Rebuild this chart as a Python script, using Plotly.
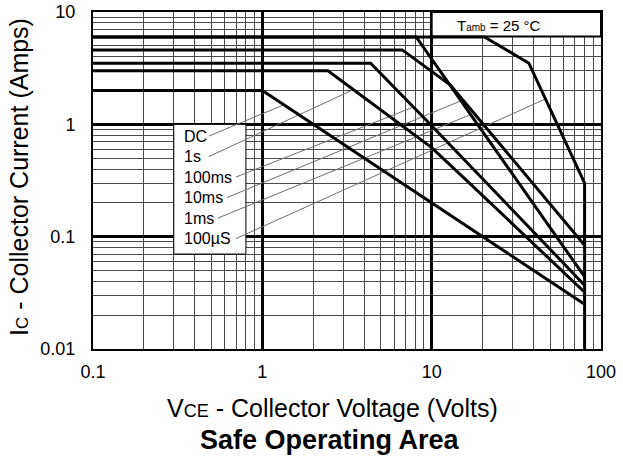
import numpy as np
import plotly.graph_objects as go

# ---------------- data ----------------
series_names = ["DC", "1s", "100ms", "10ms", "1ms", "100µS"]

dc_v = [0.1, 1.0, 80]
dc_i = [2.0, 2.0, 0.025]

s1_v = [0.1, 2.44, 10, 15, 80]
s1_i = [3.0, 3.0, 0.62, 0.35, 0.032]

ms100_v = [0.1, 4.36, 10, 80]
ms100_i = [3.5, 3.5, 0.97, 0.037]

ms10_v = [0.1, 6.7, 12.9, 80]
ms10_i = [4.6, 4.6, 2.24, 0.084]

ms1_v = [0.1, 8.1, 80]
ms1_i = [6.0, 6.0, 0.044]

us100_v = [0.1, 20.5, 37.5, 80, 80]
us100_i = [6.0, 6.0, 3.5, 0.30, 0.01]

# voltage on each curve where the label's leader line ends
leader_target_v = [1.34, 3.45, 7.8, 15.3, 17.0, 47.0]

x_tick_vals = [0.1, 1, 10, 100]
x_tick_text = ["0.1", "1", "10", "100"]
y_tick_vals = [0.01, 0.1, 1, 10]
y_tick_text = ["0.01", "0.1", "1", "10"]

curves_v = [dc_v, s1_v, ms100_v, ms10_v, ms1_v, us100_v]
curves_i = [dc_i, s1_i, ms100_i, ms10_i, ms1_i, us100_i]

FONT = "Liberation Sans, Arial, Helvetica, sans-serif"

fig = go.Figure()

# leader lines (thin grey), from label to curve
label_x_log = np.log10(0.335)
label_y_log0 = -0.104
label_step = 0.1826
char_px = 9.0
px_per_dec_x = 169.0
lx, ly = [], []
for k, name in enumerate(series_names):
    v = np.array(curves_v[k], dtype=float)
    i = np.array(curves_i[k], dtype=float)
    mask = np.r_[True, np.diff(v) > 0]
    tv = leader_target_v[k]
    ti = 10 ** np.interp(np.log10(tv), np.log10(v[mask]), np.log10(i[mask]))
    y_log = label_y_log0 - k * label_step
    start_x_log = label_x_log + (len(name) * char_px + 9) / px_per_dec_x
    lx += [10 ** start_x_log, tv, None]
    ly += [10 ** y_log, ti, None]

fig.add_trace(go.Scatter(x=lx, y=ly, mode="lines",
                         line=dict(color="#6e6e6e", width=1),
                         hoverinfo="skip", showlegend=False))

for k, name in enumerate(series_names):
    fig.add_trace(go.Scatter(x=curves_v[k], y=curves_i[k], mode="lines",
                             name=name, line=dict(color="black", width=3),
                             showlegend=False))

# white boxes covering the grid (label box and temperature box)
fig.add_shape(type="rect", xref="x", yref="y", x0=0.3, x1=0.8, y0=0.07, y1=1.0,
              fillcolor="white", line=dict(color="black", width=1), layer="between")
fig.add_shape(type="rect", xref="x", yref="y", x0=10, x1=100, y0=6.05, y1=10,
              fillcolor="white", line=dict(color="black", width=2), layer="between")

# labels
for k, name in enumerate(series_names):
    fig.add_annotation(x=label_x_log, y=label_y_log0 - k * label_step,
                       xref="x", yref="y", text=name, showarrow=False,
                       xanchor="left", yanchor="middle",
                       font=dict(family=FONT, size=16, color="black"))

fig.add_annotation(x=1.136, y=0.884, xref="x", yref="y",
                   text="T<span style='font-size:10px'>amb</span> = 25 °C",
                   showarrow=False, xanchor="left", yanchor="middle",
                   font=dict(family=FONT, size=15, color="black"))

# axis titles and chart title
fig.add_annotation(x=0.472, y=-0.175, xref="paper", yref="paper",
                   text="V<span style='font-size:18px'>CE</span> - Collector Voltage (Volts)",
                   showarrow=False, xanchor="center", yanchor="middle",
                   font=dict(family=FONT, size=25, color="black"))
fig.add_annotation(x=0.467, y=-0.27, xref="paper", yref="paper",
                   text="<b>Safe Operating Area</b>",
                   showarrow=False, xanchor="center", yanchor="middle",
                   font=dict(family=FONT, size=27, color="black"))
fig.add_annotation(x=-0.146, y=0.51, xref="paper", yref="paper",
                   text="I<span style='font-size:17px'>C</span> - Collector Current (Amps)",
                   textangle=-90, showarrow=False, xanchor="center", yanchor="middle",
                   font=dict(family=FONT, size=25, color="black"))

axis_common = dict(
    type="log", automargin=False,
    showgrid=True, gridcolor="black", gridwidth=2.5,
    showline=True, linecolor="black", linewidth=2, mirror=True,
    ticks="", zeroline=False,
    tickfont=dict(family=FONT, size=18, color="black"),
    minor=dict(dtick="D1", showgrid=True, gridcolor="#4a4a4a", gridwidth=1, ticks=""),
)

fig.update_xaxes(range=[-1, 2], tickmode="array", tickvals=x_tick_vals,
                 ticktext=x_tick_text, ticklabelstandoff=5, **axis_common)
fig.update_yaxes(range=[-2, 1], tickmode="array", tickvals=y_tick_vals,
                 ticktext=y_tick_text, ticklabelstandoff=12, **axis_common)

fig.update_layout(width=623, height=461,
                  margin=dict(l=93, r=22, t=12, b=112),
                  plot_bgcolor="white", paper_bgcolor="white",
                  showlegend=False)

# remove the page's default 8px body margin so the figure fills the window
fig.write_html("out.html",
               config={"displayModeBar": False},
               post_script="document.body.style.margin='0';"
                           "document.body.style.overflow='hidden';")
